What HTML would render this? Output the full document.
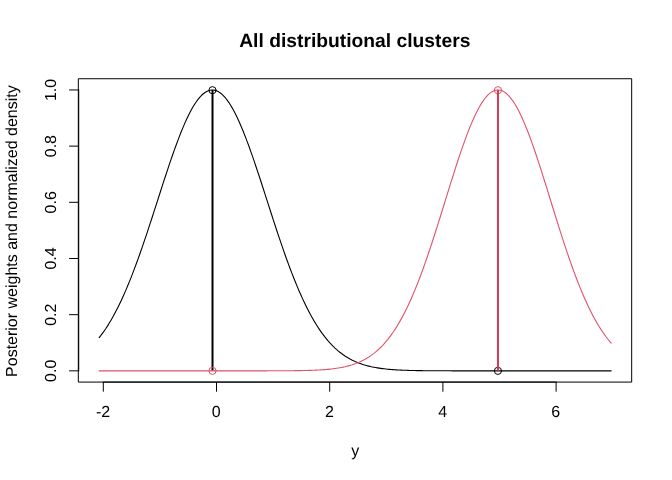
<!DOCTYPE html>
<html lang="en"><head><meta charset="utf-8"><title>All distributional clusters</title>
<style>html,body{margin:0;padding:0;background:#fff;}body{width:672px;height:480px;overflow:hidden;}svg{display:block;}text{text-rendering:geometricPrecision;font-family:"Liberation Sans",Arial,Helvetica,sans-serif;fill:#000;}</style></head><body>
<svg width="672" height="480" viewBox="0 0 672 480">
<rect width="672" height="480" fill="#fff"/>
<g fill="none" stroke-width="1" stroke-linecap="round" stroke-linejoin="round">
<polyline stroke="#000" stroke-width="1.1" points="99.20,337.65 100.91,335.45 102.61,333.15 104.32,330.74 106.03,328.22 107.73,325.58 109.44,322.82 111.15,319.95 112.85,316.96 114.56,313.84 116.27,310.61 117.97,307.25 119.68,303.77 121.39,300.17 123.09,296.45 124.80,292.61 126.51,288.65 128.21,284.57 129.92,280.38 131.63,276.08 133.33,271.67 135.04,267.16 136.75,262.55 138.45,257.84 140.16,253.04 141.87,248.15 143.57,243.19 145.28,238.16 146.99,233.06 148.69,227.90 150.40,222.70 152.11,217.46 153.81,212.18 155.52,206.88 157.23,201.57 158.93,196.26 160.64,190.96 162.35,185.68 164.05,180.42 165.76,175.21 167.47,170.05 169.17,164.95 170.88,159.93 172.59,155.00 174.29,150.17 176.00,145.44 177.71,140.84 179.41,136.38 181.12,132.06 182.83,127.89 184.53,123.90 186.24,120.08 187.95,116.45 189.65,113.02 191.36,109.80 193.07,106.79 194.77,104.01 196.48,101.46 198.19,99.16 199.89,97.09 201.60,95.28 203.31,93.73 205.01,92.44 206.72,91.42 208.43,90.66 210.13,90.18 211.84,89.97 213.55,90.03 215.25,90.36 216.96,90.97 218.67,91.84 220.37,92.99 222.08,94.39 223.79,96.06 225.49,97.98 227.20,100.16 228.91,102.57 230.61,105.23 232.32,108.11 234.03,111.22 235.73,114.53 237.44,118.05 239.15,121.77 240.85,125.67 242.56,129.74 244.27,133.97 245.97,138.36 247.68,142.89 249.39,147.54 251.09,152.31 252.80,157.19 254.51,162.17 256.21,167.22 257.92,172.35 259.63,177.53 261.33,182.77 263.04,188.04 264.75,193.33 266.45,198.64 268.16,203.95 269.87,209.26 271.57,214.54 273.28,219.81 274.99,225.03 276.69,230.22 278.40,235.35 280.11,240.42 281.81,245.42 283.52,250.35 285.23,255.20 286.93,259.96 288.64,264.62 290.35,269.19 292.05,273.66 293.76,278.02 295.47,282.27 297.17,286.41 298.88,290.44 300.59,294.34 302.29,298.13 304.00,301.80 305.71,305.34 307.41,308.77 309.12,312.07 310.83,315.25 312.53,318.31 314.24,321.25 315.95,324.07 317.65,326.77 319.36,329.36 321.07,331.84 322.77,334.20 324.48,336.45 326.19,338.59 327.89,340.63 329.60,342.57 331.31,344.41 333.01,346.16 334.72,347.81 336.43,349.37 338.13,350.85 339.84,352.24 341.55,353.55 343.25,354.79 344.96,355.95 346.67,357.04 348.37,358.06 350.08,359.02 351.79,359.92 353.49,360.76 355.20,361.54 356.91,362.27 358.61,362.96 360.32,363.59 362.03,364.18 363.73,364.73 365.44,365.24 367.15,365.71 368.85,366.14 370.56,366.55 372.27,366.92 373.97,367.26 375.68,367.58 377.39,367.87 379.09,368.14 380.80,368.39 382.51,368.61 384.21,368.82 385.92,369.01 387.63,369.18 389.33,369.34 391.04,369.49 392.75,369.62 394.45,369.74 396.16,369.85 397.87,369.95 399.57,370.04 401.28,370.12 402.99,370.19 404.69,370.26 406.40,370.32 408.11,370.38 409.81,370.43 411.52,370.47 413.23,370.51 414.93,370.55 416.64,370.58 418.35,370.61 420.05,370.64 421.76,370.66 423.47,370.68 425.17,370.70 426.88,370.72 428.59,370.73 430.29,370.74 432.00,370.76 433.71,370.77 435.41,370.78 437.12,370.78 438.83,370.79 440.53,370.80 442.24,370.80 443.95,370.81 445.65,370.81 447.36,370.82 449.07,370.82 450.77,370.82 452.48,370.83 454.19,370.83 455.89,370.83 457.60,370.83 459.31,370.83 461.01,370.84 462.72,370.84 464.43,370.84 466.13,370.84 467.84,370.84 469.55,370.84 471.25,370.84 472.96,370.84 474.67,370.84 476.37,370.84 478.08,370.84 479.79,370.84 481.49,370.84 483.20,370.84 484.91,370.84 486.61,370.84 488.32,370.84 490.03,370.84 491.73,370.84 493.44,370.84 495.15,370.84 496.85,370.84 498.56,370.84 500.27,370.84 501.97,370.84 503.68,370.84 505.39,370.84 507.09,370.84 508.80,370.84 510.51,370.84 512.21,370.84 513.92,370.84 515.63,370.84 517.33,370.84 519.04,370.84 520.75,370.84 522.45,370.84 524.16,370.84 525.87,370.84 527.57,370.84 529.28,370.84 530.99,370.84 532.69,370.84 534.40,370.84 536.11,370.84 537.81,370.84 539.52,370.84 541.23,370.84 542.93,370.84 544.64,370.84 546.35,370.84 548.05,370.84 549.76,370.84 551.47,370.84 553.17,370.84 554.88,370.84 556.59,370.84 558.29,370.84 560.00,370.84 561.71,370.84 563.41,370.84 565.12,370.84 566.83,370.84 568.53,370.84 570.24,370.84 571.95,370.84 573.65,370.84 575.36,370.84 577.07,370.84 578.77,370.84 580.48,370.84 582.19,370.84 583.89,370.84 585.60,370.84 587.31,370.84 589.01,370.84 590.72,370.84 592.43,370.84 594.13,370.84 595.84,370.84 597.55,370.84 599.25,370.84 600.96,370.84 602.67,370.84 604.37,370.84 606.08,370.84 607.79,370.84 609.49,370.84 611.20,370.84"/>
<rect x="78.72" y="78.72" width="552.96" height="303.36" stroke="#000"/>
<path stroke="#000" stroke-linecap="butt" d="M102.80 382.08H556.60"/>
<path stroke="#000" stroke-linecap="butt" d="M103.30 382.08v9.6"/>
<path stroke="#000" stroke-linecap="butt" d="M216.50 382.08v9.6"/>
<path stroke="#000" stroke-linecap="butt" d="M329.70 382.08v9.6"/>
<path stroke="#000" stroke-linecap="butt" d="M442.90 382.08v9.6"/>
<path stroke="#000" stroke-linecap="butt" d="M556.10 382.08v9.6"/>
<path stroke="#000" stroke-linecap="butt" d="M78.72 371.34V89.46"/>
<path stroke="#000" stroke-linecap="butt" d="M78.72 370.84h-9.6"/>
<path stroke="#000" stroke-linecap="butt" d="M78.72 314.67h-9.6"/>
<path stroke="#000" stroke-linecap="butt" d="M78.72 258.49h-9.6"/>
<path stroke="#000" stroke-linecap="butt" d="M78.72 202.31h-9.6"/>
<path stroke="#000" stroke-linecap="butt" d="M78.72 146.13h-9.6"/>
<path stroke="#000" stroke-linecap="butt" d="M78.72 89.96h-9.6"/>
<circle cx="212.51" cy="90.21" r="3.60" stroke="#000"/>
<circle cx="497.97" cy="370.84" r="3.60" stroke="#000"/>
<path stroke="#000" stroke-linecap="butt" stroke-width="2.00" d="M212.51 370.84V89.96"/>
<polyline stroke="#DF536B" stroke-width="1.1" points="99.20,370.84 100.91,370.84 102.61,370.84 104.32,370.84 106.03,370.84 107.73,370.84 109.44,370.84 111.15,370.84 112.85,370.84 114.56,370.84 116.27,370.84 117.97,370.84 119.68,370.84 121.39,370.84 123.09,370.84 124.80,370.84 126.51,370.84 128.21,370.84 129.92,370.84 131.63,370.84 133.33,370.84 135.04,370.84 136.75,370.84 138.45,370.84 140.16,370.84 141.87,370.84 143.57,370.84 145.28,370.84 146.99,370.84 148.69,370.84 150.40,370.84 152.11,370.84 153.81,370.84 155.52,370.84 157.23,370.84 158.93,370.84 160.64,370.84 162.35,370.84 164.05,370.84 165.76,370.84 167.47,370.84 169.17,370.84 170.88,370.84 172.59,370.84 174.29,370.84 176.00,370.84 177.71,370.84 179.41,370.84 181.12,370.84 182.83,370.84 184.53,370.84 186.24,370.84 187.95,370.84 189.65,370.84 191.36,370.84 193.07,370.84 194.77,370.84 196.48,370.84 198.19,370.84 199.89,370.84 201.60,370.84 203.31,370.84 205.01,370.84 206.72,370.84 208.43,370.84 210.13,370.84 211.84,370.84 213.55,370.84 215.25,370.84 216.96,370.84 218.67,370.84 220.37,370.84 222.08,370.84 223.79,370.84 225.49,370.84 227.20,370.84 228.91,370.84 230.61,370.84 232.32,370.84 234.03,370.84 235.73,370.84 237.44,370.84 239.15,370.84 240.85,370.84 242.56,370.84 244.27,370.84 245.97,370.84 247.68,370.84 249.39,370.84 251.09,370.84 252.80,370.84 254.51,370.84 256.21,370.84 257.92,370.84 259.63,370.83 261.33,370.83 263.04,370.83 264.75,370.83 266.45,370.83 268.16,370.82 269.87,370.82 271.57,370.82 273.28,370.81 274.99,370.81 276.69,370.80 278.40,370.80 280.11,370.79 281.81,370.78 283.52,370.77 285.23,370.76 286.93,370.75 288.64,370.74 290.35,370.73 292.05,370.71 293.76,370.69 295.47,370.67 297.17,370.65 298.88,370.62 300.59,370.60 302.29,370.56 304.00,370.53 305.71,370.49 307.41,370.44 309.12,370.39 310.83,370.34 312.53,370.28 314.24,370.21 315.95,370.13 317.65,370.05 319.36,369.96 321.07,369.85 322.77,369.74 324.48,369.62 326.19,369.48 327.89,369.33 329.60,369.16 331.31,368.98 333.01,368.77 334.72,368.55 336.43,368.31 338.13,368.05 339.84,367.76 341.55,367.45 343.25,367.11 344.96,366.74 346.67,366.33 348.37,365.89 350.08,365.42 351.79,364.91 353.49,364.35 355.20,363.75 356.91,363.10 358.61,362.40 360.32,361.65 362.03,360.84 363.73,359.97 365.44,359.04 367.15,358.04 368.85,356.98 370.56,355.84 372.27,354.62 373.97,353.32 375.68,351.94 377.39,350.48 379.09,348.92 380.80,347.26 382.51,345.51 384.21,343.66 385.92,341.70 387.63,339.64 389.33,337.46 391.04,335.17 392.75,332.76 394.45,330.23 396.16,327.58 397.87,324.80 399.57,321.90 401.28,318.87 402.99,315.71 404.69,312.41 406.40,308.99 408.11,305.44 409.81,301.75 411.52,297.93 413.23,293.99 414.93,289.91 416.64,285.71 418.35,281.38 420.05,276.93 421.76,272.37 423.47,267.69 425.17,262.90 426.88,258.01 428.59,253.02 430.29,247.94 432.00,242.78 433.71,237.53 435.41,232.22 437.12,226.85 438.83,221.43 440.53,215.97 442.24,210.48 443.95,204.97 445.65,199.44 447.36,193.92 449.07,188.42 450.77,182.94 452.48,177.49 454.19,172.10 455.89,166.78 457.60,161.53 459.31,156.37 461.01,151.32 462.72,146.38 464.43,141.58 466.13,136.91 467.84,132.40 469.55,128.07 471.25,123.91 472.96,119.94 474.67,116.18 476.37,112.63 478.08,109.31 479.79,106.23 481.49,103.39 483.20,100.80 484.91,98.48 486.61,96.42 488.32,94.64 490.03,93.14 491.73,91.92 493.44,90.99 495.15,90.36 496.85,90.02 498.56,89.97 500.27,90.22 501.97,90.77 503.68,91.60 505.39,92.73 507.09,94.14 508.80,95.84 510.51,97.81 512.21,100.05 513.92,102.56 515.63,105.32 517.33,108.33 519.04,111.58 520.75,115.05 522.45,118.75 524.16,122.65 525.87,126.75 527.57,131.04 529.28,135.49 530.99,140.11 532.69,144.87 534.40,149.77 536.11,154.79 537.81,159.92 539.52,165.14 541.23,170.44 542.93,175.81 544.64,181.24 546.35,186.71 548.05,192.21 549.76,197.73 551.47,203.25 553.17,208.77 554.88,214.27 556.59,219.74 558.29,225.18 560.00,230.56 561.71,235.89 563.41,241.16 565.12,246.34 566.83,251.45 568.53,256.47 570.24,261.39 571.95,266.21 573.65,270.93 575.36,275.53 577.07,280.01 578.77,284.38 580.48,288.62 582.19,292.73 583.89,296.72 585.60,300.58 587.31,304.31 589.01,307.90 590.72,311.36 592.43,314.70 594.13,317.90 595.84,320.97 597.55,323.91 599.25,326.73 600.96,329.42 602.67,331.98 604.37,334.43 606.08,336.76 607.79,338.97 609.49,341.07 611.20,343.06"/>
<circle cx="212.51" cy="370.84" r="3.60" stroke="#DF536B"/>
<circle cx="497.97" cy="90.21" r="3.60" stroke="#DF536B"/>
<path stroke="#D13954" stroke-linecap="butt" stroke-width="2.00" d="M497.97 370.84V89.96"/>
</g>
<text transform="translate(354.80 46.85) scale(1.004 1)" font-size="19.2px" font-weight="bold" text-anchor="middle">All distributional clusters</text>
<text x="103.00" y="416.50" font-size="16px" text-anchor="middle">-2</text>
<text x="216.20" y="416.50" font-size="16px" text-anchor="middle">0</text>
<text x="329.40" y="416.50" font-size="16px" text-anchor="middle">2</text>
<text x="442.60" y="416.50" font-size="16px" text-anchor="middle">4</text>
<text x="555.80" y="416.50" font-size="16px" text-anchor="middle">6</text>
<text x="355.20" y="456.10" font-size="16px" text-anchor="middle">y</text>
<text transform="translate(55.80 370.84) rotate(-90)" font-size="16px" text-anchor="middle">0.0</text>
<text transform="translate(55.80 314.67) rotate(-90)" font-size="16px" text-anchor="middle">0.2</text>
<text transform="translate(55.80 258.49) rotate(-90)" font-size="16px" text-anchor="middle">0.4</text>
<text transform="translate(55.80 202.31) rotate(-90)" font-size="16px" text-anchor="middle">0.6</text>
<text transform="translate(55.80 146.13) rotate(-90)" font-size="16px" text-anchor="middle">0.8</text>
<text transform="translate(55.80 89.96) rotate(-90)" font-size="16px" text-anchor="middle">1.0</text>
<text transform="translate(17.00 231.10) rotate(-90)" font-size="16px" text-anchor="middle">Posterior weights and normalized density</text>
</svg></body></html>
